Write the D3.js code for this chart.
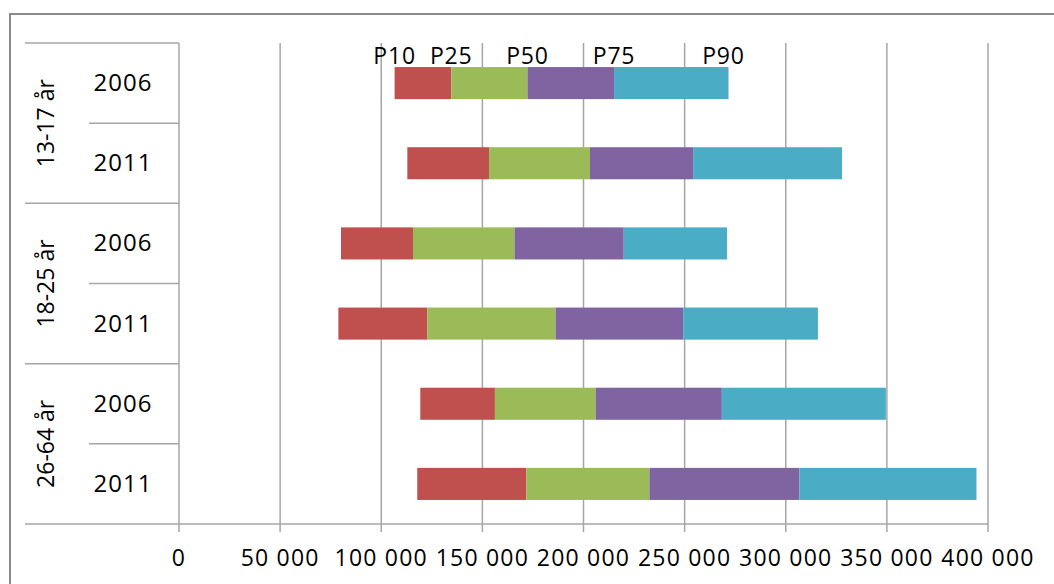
<!DOCTYPE html>
<html>
<head>
<meta charset="utf-8">
<script src="https://cdn.jsdelivr.net/npm/d3@7"></script>
<style>
  body { margin: 0; background: #fff; }
  text { font-family: "Open Sans", sans-serif; fill: #000; }
</style>
</head>
<body>
<div id="container"></div>
<script>
// Data
const groups = ["13-17 år", "18-25 år", "26-64 år"];
const years = ["2006", "2011"];
const p10 = [106600, 112900, 80100, 78800, 119300, 117800];
const p25 = [134600, 153300, 115700, 122800, 156200, 171700];
const p50 = [172300, 203200, 165900, 186200, 206000, 232600];
const p75 = [215100, 254200, 219900, 249300, 268400, 306700];
const p90 = [271700, 327800, 271000, 315900, 349500, 394300];
const pctLabels = ["P10", "P25", "P50", "P75", "P90"];
const xTicks = [0, 50000, 100000, 150000, 200000, 250000, 300000, 350000, 400000];
const colors = ["#C0504D", "#9BBB59", "#8064A2", "#4BACC6"];

const rows = [];
groups.forEach((g, gi) => years.forEach((yr, yi) => rows.push({ key: gi + "-" + yi, group: g, year: yr })));
rows.forEach((r, i) => { r.vals = [p10[i], p25[i], p50[i], p75[i], p90[i]]; });

const W = 1054, H = 584;
const svg = d3.select("#container").append("svg").attr("width", W).attr("height", H);

// outer chart border
svg.append("rect")
  .attr("x", 10).attr("y", 14).attr("width", 1100).attr("height", 640)
  .attr("fill", "none").attr("stroke", "#8a8a8a").attr("stroke-width", 2);

const plotLeft = 179, plotRight = 988, plotTop = 43, plotBottom = 524;
const x = d3.scaleLinear().domain([0, 400000]).range([plotLeft, plotRight]);
const y = d3.scaleBand().domain(rows.map(r => r.key)).range([plotTop, plotBottom]).paddingInner(0.6).paddingOuter(0.3);
const rowStep = (plotBottom - plotTop) / rows.length;

const gridColor = "#a6a6a6";

// gridlines + ticks
svg.append("g").selectAll("line").data(xTicks).enter().append("line")
  .attr("x1", d => x(d)).attr("x2", d => x(d))
  .attr("y1", plotTop).attr("y2", plotBottom + 8)
  .attr("stroke", gridColor).attr("stroke-width", 1.5);

// x axis line
svg.append("line").attr("x1", 25).attr("x2", plotRight).attr("y1", plotBottom).attr("y2", plotBottom)
  .attr("stroke", gridColor).attr("stroke-width", 1.5);

// category separators
const groupLines = d3.range(groups.length).map(i => plotTop + i * 2 * rowStep);
svg.append("g").selectAll("line").data(groupLines).enter().append("line")
  .attr("x1", 25).attr("x2", plotLeft).attr("y1", d => d).attr("y2", d => d)
  .attr("stroke", gridColor).attr("stroke-width", 1.5);
const subLines = d3.range(groups.length).map(i => plotTop + (i * 2 + 1) * rowStep);
svg.append("g").selectAll("line").data(subLines).enter().append("line")
  .attr("x1", 89).attr("x2", plotLeft).attr("y1", d => d).attr("y2", d => d)
  .attr("stroke", gridColor).attr("stroke-width", 1.5);

// tick labels
svg.append("g").selectAll("text").data(xTicks).enter().append("text")
  .attr("x", d => x(d)).attr("y", 566)
  .attr("text-anchor", "middle")
  .style("font-size", "23px").style("letter-spacing", "1.2px")
  .text(d => d3.format(",")(d).replace(/,/g, " "));

// year labels
svg.append("g").selectAll("text").data(rows).enter().append("text")
  .attr("x", 123).attr("y", r => y(r.key) + y.bandwidth() / 2 + 8)
  .attr("text-anchor", "middle")
  .style("font-size", "24px").style("letter-spacing", "1px")
  .text(r => r.year);

// group labels (rotated)
svg.append("g").selectAll("text").data(groups).enter().append("text")
  .attr("transform", (g, i) => "translate(54," + (plotTop + (i * 2 + 1) * rowStep) + ") rotate(-90)")
  .attr("text-anchor", "middle")
  .style("font-size", "23px")
  .text(g => g);

// bars
const segs = [];
rows.forEach(r => {
  for (let k = 0; k < 4; k++) segs.push({ key: r.key, x0: r.vals[k], x1: r.vals[k + 1], k });
});
svg.append("g").selectAll("rect").data(segs).enter().append("rect")
  .attr("x", d => x(d.x0)).attr("y", d => y(d.key))
  .attr("width", d => x(d.x1) - x(d.x0)).attr("height", y.bandwidth())
  .attr("fill", d => colors[d.k]);

// percentile labels above first bar
svg.append("g").selectAll("text").data(pctLabels).enter().append("text")
  .attr("x", (d, i) => x(rows[0].vals[i]) - (i === 4 ? 5 : 0))
  .attr("y", y(rows[0].key) - 3)
  .attr("text-anchor", "middle")
  .style("font-size", "23px").style("letter-spacing", "0.8px")
  .text(d => d);
</script>
</body>
</html>
